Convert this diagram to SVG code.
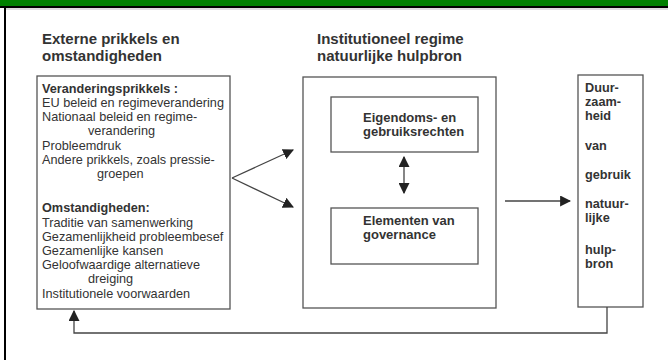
<svg xmlns="http://www.w3.org/2000/svg" width="668" height="360" viewBox="0 0 668 360">
<defs>
<marker id="ahb" viewBox="0 0 10 10" refX="9" refY="5" markerWidth="11" markerHeight="11" markerUnits="userSpaceOnUse" orient="auto-start-reverse">
<path d="M0,0 L10,5 L0,10 z" fill="#222"/>
</marker>
<style>
text{font-family:"Liberation Sans",Arial,sans-serif;fill:#333;font-size:12.7px}
.h{font-size:15px;font-weight:bold}
.b{font-weight:bold}
.m{font-size:13px;font-weight:bold}
.box{fill:none;stroke:#555;stroke-width:1.3}
.con{fill:none;stroke:#444;stroke-width:1.3}
</style>
</defs>
<rect x="0" y="0" width="668" height="360" fill="#fff"/>
<rect x="0" y="0" width="668" height="6" fill="#008000"/>
<rect x="0" y="6" width="668" height="2" fill="#000"/>
<rect x="4" y="6" width="2" height="354" fill="#000"/>
<line x1="6" y1="9" x2="668" y2="9" stroke="#bbb" stroke-width="1"/>

<g id="title-left">
<text class="h" x="42" y="44">Externe prikkels en</text>
<text class="h" x="42" y="61">omstandigheden</text>
</g>
<g id="title-middle">
<text class="h" x="317" y="44">Institutioneel regime</text>
<text class="h" x="317" y="61">natuurlijke hulpbron</text>
</g>

<g id="node-left">
<rect class="box" x="37" y="76" width="193" height="233"/>
<text class="b" x="42" y="93">Veranderingsprikkels :</text>
<text x="42" y="107">EU beleid en regimeverandering</text>
<text x="42" y="121">Nationaal beleid en regime-</text>
<text x="88" y="135">verandering</text>
<text x="42" y="150">Probleemdruk</text>
<text x="42" y="164">Andere prikkels, zoals pressie-</text>
<text x="97" y="178">groepen</text>
<text class="b" x="42" y="212">Omstandigheden:</text>
<text x="42" y="227">Traditie van samenwerking</text>
<text x="42" y="241">Gezamenlijkheid probleembesef</text>
<text x="42" y="255">Gezamenlijke kansen</text>
<text x="42" y="269">Geloofwaardige alternatieve</text>
<text x="88" y="283">dreiging</text>
<text x="42" y="298">Institutionele voorwaarden</text>
</g>

<g id="node-middle">
<rect class="box" x="303" y="77" width="193" height="231"/>
</g>
<g id="node-eigendom">
<rect class="box" x="331" y="97" width="147" height="55"/>
<text class="m" x="363" y="122">Eigendoms- en</text>
<text class="m" x="363" y="136">gebruiksrechten</text>
</g>
<g id="node-governance">
<rect class="box" x="331" y="208" width="147" height="56"/>
<text class="m" x="363" y="225">Elementen van</text>
<text class="m" x="363" y="239">governance</text>
</g>

<g id="node-right">
<rect class="box" x="578" y="75" width="65" height="232"/>
<text class="b" x="585" y="92">Duur-</text>
<text class="b" x="585" y="106">zaam-</text>
<text class="b" x="585" y="120">heid</text>
<text class="b" x="585" y="150">van</text>
<text class="b" x="585" y="179">gebruik</text>
<text class="b" x="585" y="208">natuur-</text>
<text class="b" x="585" y="222">lijke</text>
<text class="b" x="585" y="254">hulp-</text>
<text class="b" x="585" y="268">bron</text>
</g>

<g id="connectors">
<line class="con" x1="232" y1="178" x2="293" y2="150" marker-end="url(#ahb)"/>
<line class="con" x1="232" y1="178" x2="293" y2="207" marker-end="url(#ahb)"/>
<line class="con" x1="404" y1="157" x2="404" y2="193" marker-start="url(#ahb)" marker-end="url(#ahb)"/>
<line class="con" x1="505" y1="201" x2="570" y2="201" marker-end="url(#ahb)"/>
<polyline class="con" points="607,307 607,333 74,333 74,311" marker-end="url(#ahb)"/>
</g>
</svg>
